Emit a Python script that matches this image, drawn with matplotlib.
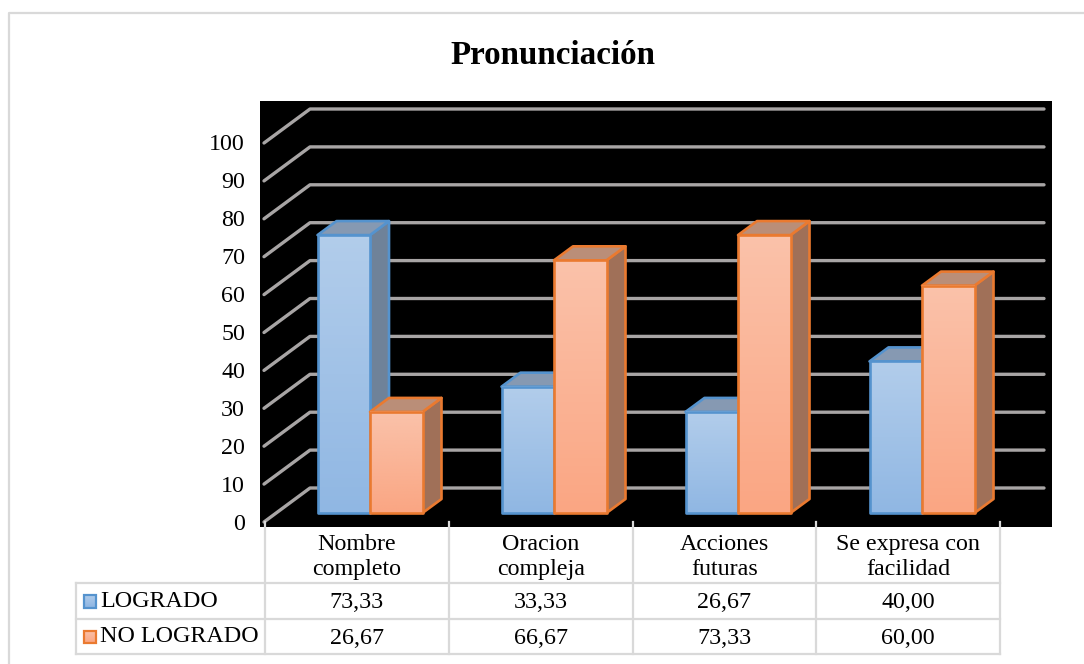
import matplotlib
matplotlib.use("Agg")
import matplotlib.pyplot as plt
import numpy as np
from matplotlib.colors import LinearSegmentedColormap
from matplotlib.patches import Polygon, Rectangle

plt.rcParams["font.family"] = ["Liberation Serif", "DejaVu Serif"]

# Data
TITLE = "Pronunciación"
CATEGORIES = ["Nombre\ncompleto", "Oracion\ncompleja", "Acciones\nfuturas", "Se expresa con\nfacilidad"]
SERIES = ["LOGRADO", "NO LOGRADO"]
LOGRADO = [73.33, 33.33, 26.67, 40.00]
NO_LOGRADO = [26.67, 66.67, 73.33, 60.00]
Y_TICKS = list(range(0, 101, 10))

# Styles
W, H = 1084, 664
PANEL = (260, 101, 1052, 527)  # left, top, right, bottom in pixels
PX_PER_CAT = 184
PX_PER_VAL = 3.79
X0_PX, Y0_PX = 370, 513  # pixel of category 0 / value 0 at the bar front
BAR_W = 52.5 / PX_PER_CAT
DEPTH_X = 19 / PX_PER_CAT
DEPTH_Y = 14 / PX_PER_VAL

BLUE = dict(edge="#5593ce", top="#b2cdeb", bottom="#90b7e3", side="#6f8299", cap="#8699b2")
ORANGE = dict(edge="#ea7a30", top="#fac2aa", bottom="#faa683", side="#a07058", cap="#ba8e78")
GRID = "#a8a5a5"
TABLE = "#d9d9d9"
FRAME = "#d9d9d9"
TEXT_SIZE = 17.3


def plot_series(ax, values, offset, colors, zorder):
    for i, value in enumerate(values):
        left = i + offset
        right = left + BAR_W
        side = [(right, 0), (right + DEPTH_X, DEPTH_Y), (right + DEPTH_X, value + DEPTH_Y), (right, value)]
        cap = [(left, value), (right, value), (right + DEPTH_X, value + DEPTH_Y), (left + DEPTH_X, value + DEPTH_Y)]
        ax.add_patch(Polygon(side, closed=True, fc=colors["side"], ec=colors["edge"], lw=1.9, zorder=zorder, joinstyle="round"))
        ax.add_patch(Polygon(cap, closed=True, fc=colors["cap"], ec=colors["edge"], lw=1.9, zorder=zorder, joinstyle="round"))
        cmap = LinearSegmentedColormap.from_list("bar", [colors["top"], colors["bottom"]])
        grad = np.linspace(0, 1, 64).reshape(-1, 1)
        ax.imshow(grad, extent=(left, right, 0, value), cmap=cmap, aspect="auto", zorder=zorder + 0.1)
        ax.add_patch(Rectangle((left, 0), BAR_W, value, fc="none", ec=colors["edge"], lw=1.9, zorder=zorder + 0.2, joinstyle="round"))


def main():
    fig = plt.figure(figsize=(W / 100, H / 100), dpi=100, facecolor="white")

    # overlay in pixel coordinates for the frame, table and labels
    over = fig.add_axes([0, 0, 1, 1], zorder=3)
    over.set_xlim(0, W)
    over.set_ylim(H, 0)
    over.axis("off")
    over.patch.set_alpha(0)

    left, top, right, bottom = PANEL
    ax = fig.add_axes([left / W, 1 - bottom / H, (right - left) / W, (bottom - top) / H], zorder=2)
    ax.set_facecolor("black")
    ax.set_xticks([])
    ax.set_yticks([])
    for spine in ax.spines.values():
        spine.set_visible(False)

    # back wall and floor lines of the 3D grid
    grid_left = (310 - X0_PX) / PX_PER_CAT
    grid_right = (1044 - X0_PX) / PX_PER_CAT
    grid_front = (264 - X0_PX) / PX_PER_CAT
    front_drop = (Y0_PX - 522) / PX_PER_VAL  # front edge sits below the bar base
    back_rise = (Y0_PX - 488) / PX_PER_VAL
    for tick in Y_TICKS:
        ax.plot([grid_front, grid_left, grid_right], [tick + front_drop, tick + back_rise, tick + back_rise],
                color=GRID, lw=2.4, solid_capstyle="round", solid_joinstyle="round", zorder=1)

    plot_series(ax, LOGRADO, -BAR_W, BLUE, 2)
    plot_series(ax, NO_LOGRADO, 0, ORANGE, 3)

    ax.set_xlim((left - X0_PX) / PX_PER_CAT, (right - X0_PX) / PX_PER_CAT)
    ax.set_ylim((Y0_PX - bottom) / PX_PER_VAL, (Y0_PX - top) / PX_PER_VAL)

    # value labels
    for tick in Y_TICKS:
        over.text(245, 524 - tick * PX_PER_VAL, str(tick), ha="right", va="center", fontsize=TEXT_SIZE, color="black")

    over.text(553, 55, TITLE, ha="center", va="center", fontsize=23.8, fontweight="bold", color="black")

    # data table
    col_x = [265 + 183.75 * i for i in range(5)]
    row_y = [583, 619, 654]
    table_left = 76
    for x in col_x:
        over.plot([x, x], [522, row_y[-1]], color=TABLE, lw=1.6, zorder=1)
    over.plot([table_left, table_left], [row_y[0], row_y[-1]], color=TABLE, lw=1.6)
    for y in row_y:
        over.plot([table_left, col_x[-1]], [y, y], color=TABLE, lw=1.6)

    for i, cat in enumerate(CATEGORIES):
        cx = (col_x[i] + col_x[i + 1]) / 2
        over.text(cx, 557, cat, ha="center", va="center", fontsize=TEXT_SIZE, linespacing=1.2, color="black")
        for r, values in enumerate([LOGRADO, NO_LOGRADO]):
            text = f"{values[i]:.2f}".replace(".", ",")
            over.text(cx, (row_y[r] + row_y[r + 1]) / 2 + 1.5, text, ha="center", va="center", fontsize=TEXT_SIZE, color="black")

    for r, (name, colors) in enumerate(zip(SERIES, [BLUE, ORANGE])):
        cy = (row_y[r] + row_y[r + 1]) / 2
        cmap = LinearSegmentedColormap.from_list("key", [colors["top"], colors["bottom"]])
        over.imshow(np.linspace(0, 1, 16).reshape(-1, 1), extent=(83.5, 96, cy + 6.5, cy - 6), cmap=cmap, aspect="auto", zorder=2)
        over.add_patch(Rectangle((83.5, cy - 6), 12.5, 12.5, fc="none", ec=colors["edge"], lw=1.6, zorder=3))
        over.text(100, cy + 0.5, name, ha="left", va="center", fontsize=TEXT_SIZE, color="black")

    # imshow resets limits
    over.set_xlim(0, W)
    over.set_ylim(H, 0)

    # chart frame
    over.plot([9, 9, W + 2], [H + 2, 13, 13], color=FRAME, lw=1.6)

    fig.savefig("out.png", dpi=100, facecolor="white")
    plt.close(fig)


if __name__ == "__main__":
    main()
